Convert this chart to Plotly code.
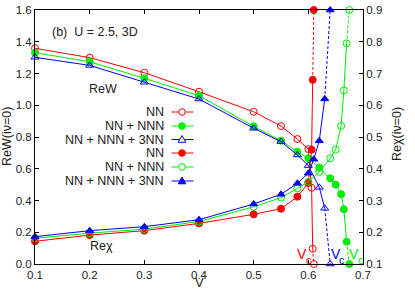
import plotly.graph_objects as go

# ---------------- data ----------------
V_common = [0.1, 0.2, 0.3, 0.4, 0.5, 0.55, 0.58, 0.6]

# ReW(iv=0), left axis
rew_nn_V = V_common + [0.606, 0.608, 0.61]
rew_nn = [1.359, 1.300, 1.205, 1.085, 0.959, 0.869, 0.787, 0.724, 0.48, 0.096, 0.0]

rew_nnn_V = V_common + [0.62, 0.64, 0.65, 0.66, 0.665, 0.67, 0.675]
rew_nnn = [1.331, 1.274, 1.170, 1.060, 0.867, 0.777, 0.707, 0.666,
           0.607, 0.54, 0.50, 0.44, 0.345, 0.14, 0.0]

rew_3nn_V = V_common + [0.62, 0.63, 0.64]
rew_3nn = [1.302, 1.251, 1.145, 1.039, 0.855, 0.771, 0.687, 0.620, 0.483, 0.351, 0.0]

# Rechi(iv=0), right axis
chi_nn_V = V_common + [0.606, 0.608, 0.61]
chi_nn = [0.1715, 0.191, 0.205, 0.228, 0.2565, 0.274, 0.312, 0.355, 0.46, 0.68, 0.9]

chi_nnn_V = V_common + [0.62, 0.64, 0.65, 0.66, 0.665, 0.67, 0.675]
chi_nnn = [0.181, 0.197, 0.210, 0.234, 0.280, 0.309, 0.338, 0.359,
           0.39, 0.433, 0.46, 0.535, 0.647, 0.795, 0.9]

chi_3nn_V = V_common + [0.61, 0.62, 0.63, 0.64]
chi_3nn = [0.186, 0.205, 0.2175, 0.2395, 0.289, 0.3195, 0.354, 0.386, 0.43, 0.488, 0.62, 0.9]

legend_labels = ["NN", "NN + NNN", "NN + NNN + 3NN", "NN", "NN + NNN", "NN + NNN + 3NN"]
x_ticks = [0.1, 0.2, 0.3, 0.4, 0.5, 0.6, 0.7]

RED, GREEN, BLUE = "#ff0000", "#00ee00", "#0000ff"
FONT = "Liberation Sans, Arial, sans-serif"
TXT = "#222"

# plot area in pixels
L, R, T, B = 35, 363, 10, 264


def PX(x):
    return (x - L) / (R - L)


def PY(y):
    return (B - y) / (B - T)


fig = go.Figure()


def add_series(V, vals, color, symbol, yax):
    mk = dict(symbol=symbol, size=7, color=color, line=dict(color=color, width=1))
    fig.add_trace(go.Scatter(x=V[:-1], y=vals[:-1], mode="lines+markers", yaxis=yax,
                             line=dict(color=color, width=1), marker=mk,
                             showlegend=False, cliponaxis=False))
    fig.add_trace(go.Scatter(x=V[-2:], y=vals[-2:], mode="lines", yaxis=yax,
                             line=dict(color=color, width=1, dash="3px,2px"),
                             showlegend=False, cliponaxis=False))
    fig.add_trace(go.Scatter(x=V[-1:], y=vals[-1:], mode="markers", yaxis=yax,
                             marker=mk, showlegend=False, cliponaxis=False))


add_series(rew_nn_V, rew_nn, RED, "circle-open", "y")
add_series(rew_nnn_V, rew_nnn, GREEN, "circle", "y")
add_series(rew_3nn_V, rew_3nn, BLUE, "triangle-up-open", "y")
add_series(chi_nn_V, chi_nn, RED, "circle", "y2")
add_series(chi_nnn_V, chi_nnn, GREEN, "circle-open", "y2")
add_series(chi_3nn_V, chi_3nn, BLUE, "triangle-up", "y2")

# ---------------- custom legend (text left, sample right) ----------------
leg_colors = [RED, GREEN, BLUE, RED, GREEN, BLUE]
leg_filled = [False, True, False, True, False, True]
leg_kind = ["c", "c", "t", "c", "c", "t"]
leg_rows = [112, 126, 139.5, 153, 167, 181]
annotations = []
shapes = []
for lab, c, f, k, yy in zip(legend_labels, leg_colors, leg_filled, leg_kind, leg_rows):
    shapes.append(dict(type="line", xref="paper", yref="paper", x0=PX(171.5), x1=PX(193.5),
                       y0=PY(yy), y1=PY(yy), line=dict(color=c, width=1)))
    common = dict(xref="paper", yref="paper", xsizemode="pixel", ysizemode="pixel",
                  xanchor=PX(182), yanchor=PY(yy), line=dict(color=c, width=1),
                  fillcolor=c if f else "white")
    if k == "c":
        shapes.append(dict(type="circle", x0=-3.3, x1=3.3, y0=-3.3, y1=3.3, **common))
    else:
        shapes.append(dict(type="path", path="M -3.8 -2.8 L 3.8 -2.8 L 0 3.9 Z", **common))
    annotations.append(dict(x=PX(166), y=PY(yy), xref="paper", yref="paper", text=lab,
                            showarrow=False, xanchor="right", yanchor="middle",
                            font=dict(family=FONT, size=12.5, color=TXT)))

# text labels
annotations += [
    dict(x=PX(50), y=PY(32), xref="paper", yref="paper", text="(b)  U = 2.5, 3D", showarrow=False,
         xanchor="left", yanchor="middle", font=dict(family=FONT, size=12.5, color=TXT)),
    dict(x=PX(103), y=PY(89), xref="paper", yref="paper", text="ReW", showarrow=False,
         xanchor="center", yanchor="middle", font=dict(family=FONT, size=12.5, color=TXT)),
    dict(x=PX(101), y=PY(246), xref="paper", yref="paper", text="Reχ", showarrow=False,
         xanchor="center", yanchor="middle", font=dict(family=FONT, size=12.5, color=TXT)),
    # axis titles
    dict(x=PX(199), y=PY(292), xref="paper", yref="paper", text="V", showarrow=False,
         xanchor="center", yanchor="bottom", font=dict(family=FONT, size=13, color=TXT)),
    dict(x=PX(7), y=PY(136), xref="paper", yref="paper", text="ReW(iν=0)", showarrow=False,
         textangle=-90, xanchor="center", yanchor="middle",
         font=dict(family=FONT, size=12.5, color=TXT)),
    dict(x=PX(397), y=PY(134), xref="paper", yref="paper", text="Reχ(iν=0)", showarrow=False,
         textangle=-90, xanchor="center", yanchor="middle",
         font=dict(family=FONT, size=12.5, color=TXT)),
]
for xv, xc, col in [(302, 308.5, RED), (335.5, 341.5, BLUE), (354, 360.5, GREEN)]:
    annotations.append(dict(x=PX(xv), y=PY(254), xref="paper", yref="paper", text="V",
                            showarrow=False, xanchor="center", yanchor="middle",
                            font=dict(family=FONT, size=14, color=col)))
    annotations.append(dict(x=PX(xc), y=PY(260), xref="paper", yref="paper", text="c",
                            showarrow=False, xanchor="center", yanchor="middle",
                            font=dict(family=FONT, size=11, color=col)))

axis_common = dict(showline=True, linecolor="black", linewidth=1, ticks="inside",
                   ticklen=4, tickcolor="black", showgrid=False, zeroline=False,
                   automargin=False, tickfont=dict(family=FONT, size=11.5, color=TXT))

fig.update_layout(
    width=415, height=291,
    margin=dict(l=L, r=415 - R, t=T, b=291 - B, autoexpand=False),
    paper_bgcolor="white", plot_bgcolor="white",
    font=dict(family=FONT, size=12, color=TXT),
    xaxis=dict(range=[0.1, 0.7], tickvals=x_ticks, tickformat=".1f", mirror="ticks",
               **axis_common),
    yaxis=dict(range=[0, 1.6], dtick=0.2, tickformat=".1f", **axis_common),
    yaxis2=dict(range=[0.1, 0.9], dtick=0.1, tickformat=".1f", overlaying="y", side="right",
                **axis_common),
    annotations=annotations,
    shapes=shapes,
    showlegend=False,
)

fig.write_html("out.html", config={"displayModeBar": False},
               post_script="document.body.style.margin='0px';document.body.style.padding='0px';")
